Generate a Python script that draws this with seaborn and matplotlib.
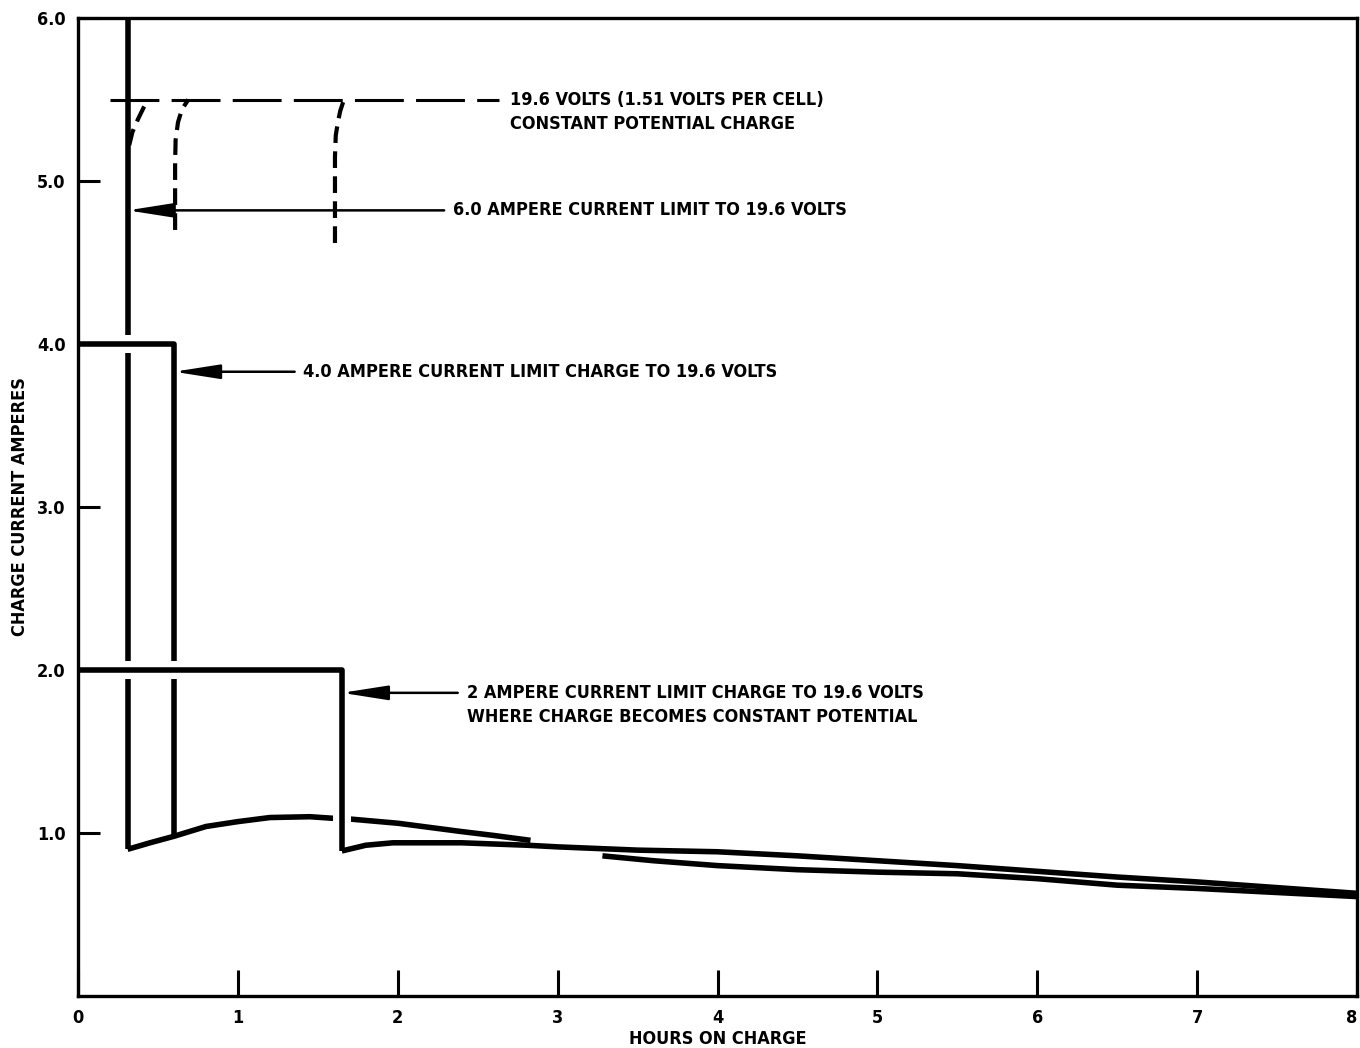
import matplotlib.pyplot as plt
import matplotlib.patheffects as pe
import seaborn as sns

# 6.0 ampere limit: current drops at 0.31 h, then tapers
a_drop_x = [0.31, 0.31]
a_drop_y = [6.0, 0.90]
a_taper_x = [0.31, 0.45, 0.60, 0.80, 1.00, 1.20, 1.45, 1.60, 1.71, 2.00, 2.39, 2.60, 2.83]
a_taper_y = [0.90, 0.94, 0.98, 1.04, 1.07, 1.095, 1.10, 1.09, 1.085, 1.06, 1.01, 0.985, 0.955]

# 4.0 ampere limit
b_x = [0.0, 0.60, 0.60]
b_y = [4.0, 4.0, 0.98]

# 2 ampere limit, then constant potential
c_x = [0.0, 1.65, 1.65]
c_y = [2.0, 2.0, 0.89]
c_taper_x = [1.65, 1.80, 1.97, 2.20, 2.40, 2.81, 3.00, 3.50, 4.00, 4.50, 5.00, 5.50, 6.00, 6.50, 7.00, 7.50, 8.00]
c_taper_y = [0.89, 0.925, 0.94, 0.94, 0.94, 0.925, 0.915, 0.895, 0.885, 0.86, 0.83, 0.80, 0.765, 0.73, 0.70, 0.665, 0.63]

# lower tail
low_x = [3.28, 3.60, 4.00, 4.50, 5.00, 5.50, 6.00, 6.50, 7.00, 7.50, 8.00]
low_y = [0.86, 0.83, 0.80, 0.775, 0.76, 0.75, 0.72, 0.68, 0.66, 0.635, 0.61]

# 19.6 volt level and the dashed rise to it
volt_x = [0.20, 2.63]
volt_y = [5.5, 5.5]
d1_x = [0.32, 0.34, 0.375, 0.41, 0.44]
d1_y = [5.22, 5.30, 5.38, 5.45, 5.50]
d2_x = [0.607, 0.607, 0.61, 0.625, 0.65, 0.69]
d2_y = [4.70, 5.10, 5.25, 5.36, 5.44, 5.50]
d3_x = [1.607, 1.607, 1.612, 1.625, 1.64, 1.66]
d3_y = [4.62, 5.15, 5.28, 5.36, 5.43, 5.49]

x_ticks = [0, 1, 2, 3, 4, 5, 6, 7, 8]
y_ticks = [1, 2, 3, 4, 5, 6]
y_tick_labels = ['1.0', '2.0', '3.0', '4.0', '5.0', '6.0']

sns.set_style('white')
plt.rcParams['font.family'] = ['DejaVu Sans']
plt.rcParams['font.stretch'] = 'condensed'
plt.rcParams['font.weight'] = 'bold'
plt.rcParams['text.color'] = 'black'
plt.rcParams['axes.labelcolor'] = 'black'
plt.rcParams['xtick.color'] = 'black'
plt.rcParams['ytick.color'] = 'black'

fig = plt.figure(figsize=(13.6, 10.48), dpi=100)
ax = fig.add_axes([0.0574, 0.0496, 0.9404, 0.9332])

lw = 4.0
gap = [pe.Stroke(linewidth=13, foreground='white'), pe.Normal()]

def draw(x, y, **kw):
    sns.lineplot(x=x, y=y, ax=ax, sort=False, estimator=None, color='black',
                 solid_capstyle='butt', **kw)

draw(a_drop_x, a_drop_y, linewidth=lw)
draw(b_x, b_y, linewidth=lw, path_effects=gap)
draw(a_taper_x, a_taper_y, linewidth=lw)
draw(c_x, c_y, linewidth=lw, path_effects=gap)
draw(c_taper_x, c_taper_y, linewidth=lw)
draw(low_x, low_y, linewidth=lw, solid_joinstyle='round')

sns.lineplot(x=volt_x, y=volt_y, ax=ax, color='black', linewidth=2.2,
             linestyle=(0, (16, 4)))
for dx, dy in [(d1_x, d1_y), (d2_x, d2_y), (d3_x, d3_y)]:
    sns.lineplot(x=dx, y=dy, ax=ax, sort=False, estimator=None, color='black',
                 linewidth=3.0, linestyle=(0, (4, 2)))

fs = 13
txt = dict(fontsize=fs, fontweight='bold', fontstretch='condensed', color='black')
arrow = dict(arrowstyle='-|>,head_length=1.4,head_width=0.22', color='black',
             lw=1.8, shrinkA=4, shrinkB=0, mutation_scale=20, relpos=(0, 0.5))

ax.text(2.70, 5.50, '19.6 VOLTS (1.51 VOLTS PER CELL)', ha='left', va='center', **txt)
ax.text(2.70, 5.35, 'CONSTANT POTENTIAL CHARGE', ha='left', va='center', **txt)

ax.annotate('6.0 AMPERE CURRENT LIMIT TO 19.6 VOLTS', xy=(a_drop_x[0], 4.82),
            xytext=(2.345, 4.82), ha='left', va='center', arrowprops=arrow, **txt)
ax.annotate('4.0 AMPERE CURRENT LIMIT CHARGE TO 19.6 VOLTS', xy=(b_x[1], 3.83),
            xytext=(1.41, 3.83), ha='left', va='center', arrowprops=arrow, **txt)
ax.annotate('2 AMPERE CURRENT LIMIT CHARGE TO 19.6 VOLTS', xy=(c_x[1], 1.86),
            xytext=(2.43, 1.86), ha='left', va='center', arrowprops=arrow, **txt)
ax.text(2.43, 1.71, 'WHERE CHARGE BECOMES CONSTANT POTENTIAL', ha='left', va='center', **txt)

ax.set_xlim(0, 8)
ax.set_ylim(0, 6)
ax.set_xticks(x_ticks)
ax.set_xticklabels([str(t) for t in x_ticks], fontsize=fs, fontweight='bold',
                   fontstretch='condensed')
ax.get_xticklabels()[-1].set_horizontalalignment('right')
ax.set_yticks(y_ticks)
ax.set_yticklabels(y_tick_labels, fontsize=fs, fontweight='bold', fontstretch='condensed')
ax.tick_params(axis='both', direction='in', width=2.2, color='black',
               labelcolor='black', bottom=True, left=True, top=False, right=False)
ax.tick_params(axis='x', pad=9, length=19)
ax.tick_params(axis='y', pad=9, length=16)
for s in ax.spines.values():
    s.set_linewidth(2.4)
    s.set_color('black')
ax.set_xlabel('HOURS ON CHARGE', fontsize=fs, fontweight='bold', fontstretch='condensed')
ax.set_ylabel('CHARGE CURRENT AMPERES', fontsize=fs, fontweight='bold', fontstretch='condensed')
ax.xaxis.set_label_coords(0.5, -0.035)
ax.yaxis.set_label_coords(-0.038, 0.5)

fig.savefig('out.png', dpi=100, facecolor='white')
